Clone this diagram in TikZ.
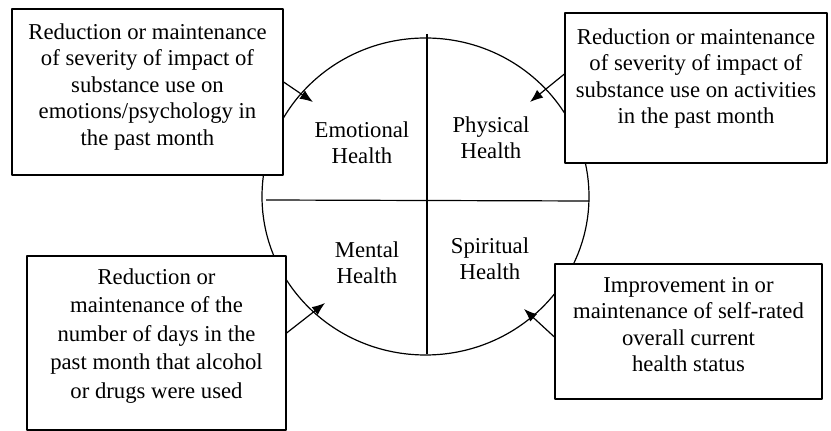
\documentclass[tikz,border=0pt]{standalone}
\usepackage{fontspec}
\setmainfont{Liberation Serif}
\usetikzlibrary{arrows.meta,calc}
\begin{document}
\begin{tikzpicture}[x=1pt,y=1pt,>={Latex[length=13pt,width=10pt]}, line width=1.2pt, line join=round,
	outcome/.style={draw,fill=white,align=center,inner sep=0pt,font=\fontsize{22.7}{26.5}\selectfont},
	area/.style={align=center,font=\fontsize{22.7}{25.5}\selectfont}]
	\useasboundingbox (0,0) rectangle (831,431);
	\coordinate (T) at (427,397);
	\coordinate (B) at (427,77);
	\coordinate (L) at (266,231);
	\coordinate (R) at (589,230);
	\draw (425.5,234.5) ellipse[x radius=163.5,y radius=158.5];
	\draw (T)--(B);
	\draw (L)--(R);
	\node[area] (emo) at (362,288.5) {Emotional\\Health};
	\node[area] (phy) at (491,293.5) {Physical\\Health};
	\node[area] (men) at (367,168.5) {Mental\\Health};
	\node[area] (spi) at (490,172.5) {Spiritual\\Health};
	% text depth pushes the lines up inside each box
	\node[outcome,minimum width=271,minimum height=166,text depth=15pt] (b1) at (147.5,339) {Reduction or maintenance\\of severity of impact of\\substance use on\\emotions/psychology in\\the past month};
	\node[outcome,minimum width=262,minimum height=150,text depth=24pt] (b2) at (696,343) {Reduction or maintenance\\of severity of impact of\\substance use on activities\\in the past month};
	\node[outcome,minimum width=259,minimum height=174,text depth=19pt,font=\fontsize{22.7}{28.5}\selectfont] (b3) at (156.5,88) {Reduction or\\maintenance of the\\number of days in the\\past month that alcohol\\or drugs were used};
	\node[outcome,minimum width=267,minimum height=135,text depth=14pt] (b4) at (688.5,99.5) {Improvement in or\\maintenance of self-rated\\overall current\\health status};
	\coordinate (t1) at (313,329);
	\coordinate (t2) at (530,329);
	\coordinate (t3) at (325,128);
	\coordinate (t4) at (524,122);
	\draw[->] ($(b1.east)+(0,10)$)--(t1);
	\draw[->] ($(b2.west)+(0,14)$)--(t2);
	\draw[->] ($(b3.east)+(0,10)$)--(t3);
	\draw[->] ($(b4.west)+(0,-5.5)$)--(t4);
\end{tikzpicture}
\end{document}
